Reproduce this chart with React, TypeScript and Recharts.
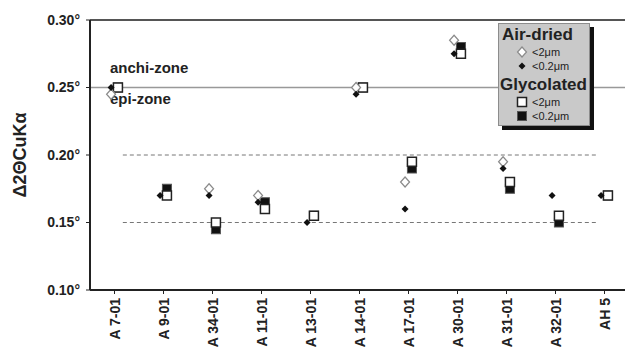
import {
  Legend,
  ReferenceLine,
  Scatter,
  ScatterChart,
  XAxis,
  YAxis
} from "recharts";

const samples = ["A 7-01", "A 9-01", "A 34-01", "A 11-01", "A 13-01", "A 14-01", "A 17-01", "A 30-01", "A 31-01", "A 32-01", "AH 5"];

// air-dried
const airClay = [0.245, null, 0.175, 0.17, null, 0.25, 0.18, 0.285, 0.195, null, null];
const airFine = [0.25, 0.17, 0.17, 0.165, 0.15, 0.245, 0.16, 0.275, 0.19, 0.17, 0.17];
// glycolated
const glyClay = [0.25, 0.17, 0.15, 0.16, 0.155, 0.25, 0.195, 0.275, 0.18, 0.155, 0.17];
const glyFine = [0.25, 0.175, 0.145, 0.165, 0.155, 0.25, 0.19, 0.28, 0.175, 0.15, 0.17];

const yTicks = [0.1, 0.15, 0.2, 0.25, 0.3];

const FONT = '"Liberation Sans", Arial, sans-serif';
const SHIFT = 0.07;

const toPoints = (vals: (number | null)[], dx: number) =>
  vals
    .map((v, i) => ({ x: i + dx, y: v }))
    .filter((p) => p.y !== null);

const OpenDiamond = ({ cx, cy }: any) => (
  <path d={`M${cx},${cy - 5}L${cx + 4.5},${cy}L${cx},${cy + 5}L${cx - 4.5},${cy}Z`} fill="#fff" stroke="#8a8a8a" strokeWidth={1.2} />
);
const BlackDiamond = ({ cx, cy }: any) => (
  <path d={`M${cx},${cy - 3.5}L${cx + 3.5},${cy}L${cx},${cy + 3.5}L${cx - 3.5},${cy}Z`} fill="#111" />
);
const OpenSquare = ({ cx, cy }: any) => (
  <rect x={cx - 4.5} y={cy - 4.5} width={9} height={9} fill="#fff" stroke="#222" strokeWidth={1.5} />
);
const BlackSquare = ({ cx, cy }: any) => (
  <rect x={cx - 4.5} y={cy - 4.5} width={9} height={9} fill="#111" stroke="#555" strokeWidth={1} />
);

const XTick = ({ x, y, payload }: any) => (
  <text
    transform={`translate(${x + 5},${y + 2}) rotate(-90)`}
    textAnchor="end"
    fontFamily={FONT}
    fontWeight="bold"
    fontSize={14}
    fill="#222"
  >
    {samples[payload.value]}
  </text>
);

const legendRow = (Icon: any, label: string) => (
  <div style={{ display: "flex", alignItems: "center", height: 14, paddingLeft: 16 }}>
    <svg width={14} height={12} style={{ marginRight: 3 }}>
      <Icon cx={7} cy={6} />
    </svg>
    <span style={{ fontSize: 11, color: "#222" }}>{label}</span>
  </div>
);

const LegendBox = () => (
  <div
    style={{
      width: 90,
      height: 99,
      background: "#c9c9c9",
      border: "1px solid #8c8c8c",
      boxShadow: "4px 4px 0 #111",
      fontFamily: FONT,
      lineHeight: 1,
      paddingTop: 2
    }}
  >
    <div style={{ fontWeight: "bold", fontSize: 17, color: "#222", paddingLeft: 3, height: 19 }}>Air-dried</div>
    {legendRow(OpenDiamond, "<2μm")}
    {legendRow(BlackDiamond, "<0.2μm")}
    <div style={{ fontWeight: "bold", fontSize: 17, color: "#222", paddingLeft: 1, height: 19, marginTop: 3 }}>Glycolated</div>
    {legendRow(OpenSquare, "<2μm")}
    {legendRow(BlackSquare, "<0.2μm")}
  </div>
);

export default function App() {
  return (
    <div
      style={{
        position: "absolute",
        left: 0,
        top: 0,
        width: 625,
        height: 356,
        overflow: "hidden",
        background: "#fff"
      }}
    >
      <ScatterChart width={640} height={356} margin={{ top: 20, right: 11, bottom: 0, left: 0 }}>
        <XAxis
          type="number"
          dataKey="x"
          domain={[-0.5, 10.5]}
          ticks={samples.map((_, i) => i)}
          interval={0}
          tick={<XTick />}
          tickSize={4}
          axisLine={{ stroke: "#222", strokeWidth: 2 }}
          tickLine={{ stroke: "#222" }}
          height={66}
        />
        <YAxis
          type="number"
          dataKey="y"
          domain={[0.1, 0.3]}
          ticks={yTicks}
          width={90}
          tickSize={4}
          tickMargin={6}
          tickFormatter={(v: number) => `${v.toFixed(2)}°`}
          tick={{ fontFamily: FONT, fontWeight: "bold", fontSize: 14, fill: "#222" }}
          axisLine={{ stroke: "#222", strokeWidth: 2 }}
          tickLine={{ stroke: "#222" }}
        />
        <ReferenceLine y={0.3} stroke="#555" strokeWidth={2} />
        <ReferenceLine y={0.25} stroke="#999" strokeWidth={1.5} />
        <ReferenceLine segment={[{ x: 0.17, y: 0.2 }, { x: 9.85, y: 0.2 }]} stroke="#777" strokeDasharray="4 3" />
        <ReferenceLine segment={[{ x: 0.17, y: 0.15 }, { x: 9.85, y: 0.15 }]} stroke="#777" strokeDasharray="4 3" />
        <Scatter name="gly <0.2" data={toPoints(glyFine, SHIFT)} shape={<BlackSquare />} isAnimationActive={false} />
        <Scatter name="gly <2" data={toPoints(glyClay, SHIFT)} shape={<OpenSquare />} isAnimationActive={false} />
        <Scatter name="air <2" data={toPoints(airClay, -SHIFT)} shape={<OpenDiamond />} isAnimationActive={false} />
        <Scatter name="air <0.2" data={toPoints(airFine, -SHIFT)} shape={<BlackDiamond />} isAnimationActive={false} />
        <Legend
          layout="vertical"
          align="center"
          verticalAlign="middle"
          content={<LegendBox />}
          wrapperStyle={{ left: 498, top: 23, width: "auto" }}
        />
        <text transform="translate(26,155) rotate(-90)" textAnchor="middle" fontFamily={FONT} fontWeight="bold" fontSize={18} fill="#222">
          Δ2ΘCuKα
        </text>
        <text x={110} y={73} fontFamily={FONT} fontWeight="bold" fontSize={15} fill="#222">anchi-zone</text>
        <text x={110} y={104} fontFamily={FONT} fontWeight="bold" fontSize={15} fill="#222">epi-zone</text>
      </ScatterChart>
    </div>
  );
}
